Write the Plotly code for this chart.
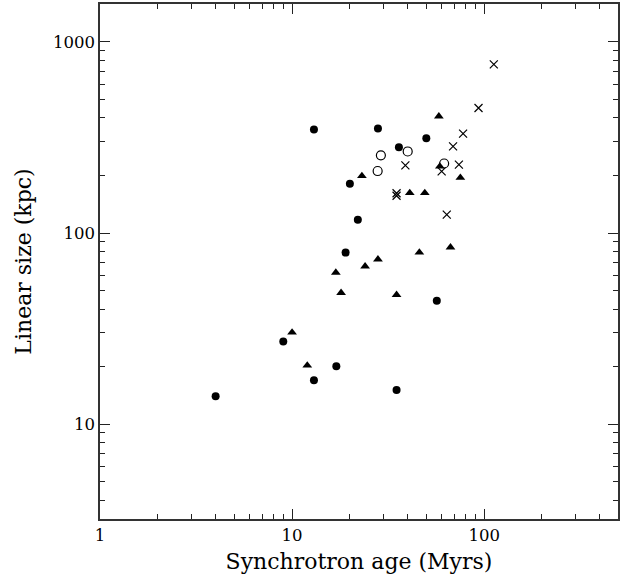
import plotly.graph_objects as go

# Filled circles
fc_age = [4.0, 9.0, 13.0, 17.0, 35.0, 56.7, 19.0, 22.0, 20.0, 13.0, 28.0, 36.0, 50.0]
fc_size = [14.0, 27.1, 17.0, 20.1, 15.1, 44.2, 79.0, 117.5, 181, 348, 352, 281, 313]

# Open circles
oc_age = [29.0, 27.9, 40.0, 61.9]
oc_size = [255, 211, 267, 231]

# Filled triangles
tr_age = [10.0, 12.0, 16.9, 18.0, 24.0, 28.0, 35.0, 46.0, 66.8, 23.1, 41.0, 49.1, 58.1, 58.8, 75.2]
tr_size = [30.2, 20.3, 62.1, 48.7, 67.0, 72.9, 47.5, 79.2, 84.2, 199, 162, 162, 408, 223, 194.6]

# Crosses
cr_age = [112.3, 93.5, 77.7, 68.9, 38.9, 73.9, 60.1, 35.0, 35.0, 63.9]
cr_size = [762, 451, 331, 284, 226, 228, 210, 161.5, 156.7, 124.7]

x_major = [1, 10, 100]
y_major = [10, 100, 1000]
x_minor = [2, 3, 4, 5, 6, 7, 8, 9, 20, 30, 40, 50, 60, 70, 80, 90, 200, 300, 400]
y_minor = [4, 5, 6, 7, 8, 9, 20, 30, 40, 50, 60, 70, 80, 90, 200, 300, 400, 500, 600, 700, 800, 900]

fig = go.Figure()
fig.add_trace(go.Scatter(x=fc_age, y=fc_size, mode="markers",
                         marker=dict(symbol="circle", size=8, color="black")))
fig.add_trace(go.Scatter(x=oc_age, y=oc_size, mode="markers",
                         marker=dict(symbol="circle-open", size=9, color="black",
                                     line=dict(width=1.2, color="black"))))
fig.add_trace(go.Scatter(x=tr_age, y=tr_size, mode="markers",
                         marker=dict(symbol="triangle-up", size=8.5, color="black")))
fig.add_trace(go.Scatter(x=cr_age, y=cr_size, mode="markers",
                         marker=dict(symbol="x-thin-open", size=8, color="black",
                                     line=dict(width=1.2, color="black"))))

axis_common = dict(
    type="log", showgrid=False, zeroline=False,
    showline=True, linecolor="#333", linewidth=1.5, mirror="allticks",
    ticks="inside", ticklen=10, tickwidth=1, tickcolor="#222",
    tickfont=dict(family="DejaVu Serif", size=16.5, color="black"),
    title_font=dict(family="DejaVu Serif", size=22, color="black"),
)

fig.update_xaxes(**axis_common, range=[0, 2.697],
                 tickmode="array", tickvals=x_major, ticktext=[str(v) for v in x_major],
                 minor=dict(tickmode="array", tickvals=x_minor, ticks="inside",
                            ticklen=5, tickwidth=1, tickcolor="#222", showgrid=False),
                 title_text="Synchrotron age (Myrs)", title_standoff=10)
fig.update_yaxes(**axis_common, range=[0.504, 3.198],
                 tickmode="array", tickvals=y_major, ticktext=[str(v) for v in y_major],
                 minor=dict(tickmode="array", tickvals=y_minor, ticks="inside",
                            ticklen=5, tickwidth=1, tickcolor="#222", showgrid=False),
                 title_text="Linear size (kpc)", title_standoff=15)

fig.update_layout(
    width=625, height=579,
    margin=dict(l=100, r=7, t=2, b=60),
    plot_bgcolor="white", paper_bgcolor="white",
    showlegend=False,
)

fig.write_html("out.html")
